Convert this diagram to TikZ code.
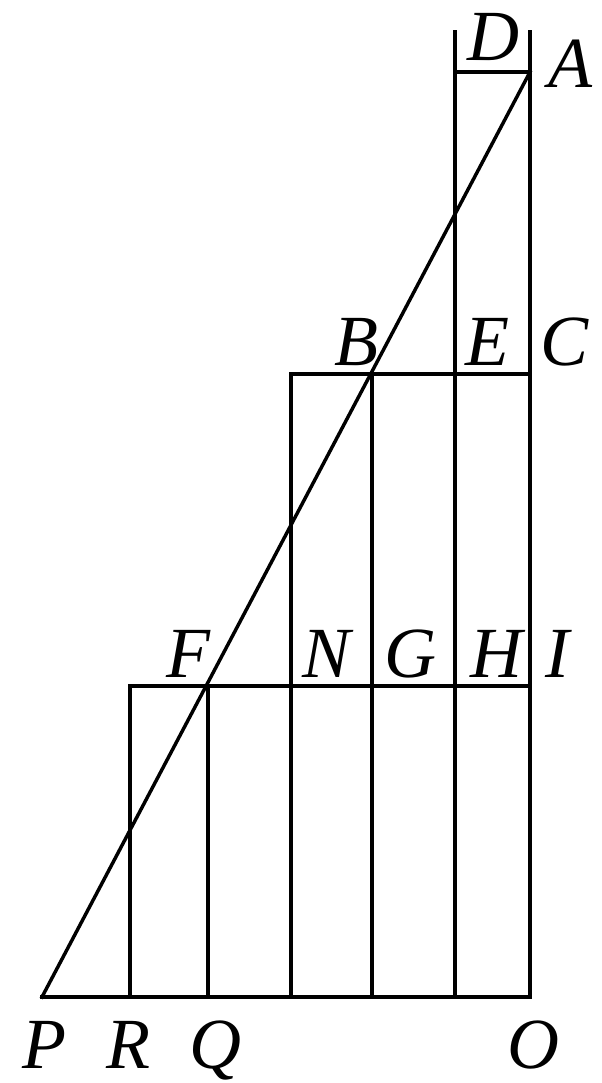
\documentclass[tikz,border=0pt]{standalone}
\usepackage{fontspec}
\setmainfont{Liberation Serif}
\begin{document}
\begin{tikzpicture}[x=0.75pt,y=-0.75pt,
  ln/.style={line width=2.6pt,line cap=rect,line join=miter},
  lab/.style={anchor=base,inner sep=0pt,font=\fontsize{54}{60}\selectfont\itshape}]
\useasboundingbox (0,0) rectangle (601,1083);
% points
\coordinate (P) at (42,997);
\coordinate (O) at (530,997);
\coordinate (A) at (530,72);
\coordinate (Dl) at (455,72);
\coordinate (Dt) at (455,32);
\coordinate (At) at (530,32);
\coordinate (C) at (530,374);
\coordinate (I) at (530,686);
\coordinate (Bl) at (291,374);
\coordinate (B) at (372,374);
\coordinate (E) at (455,374);
\coordinate (Fl) at (130,686);
\coordinate (F) at (208,686);
\coordinate (R) at (130,997);
\coordinate (Q) at (208,997);
\coordinate (X1) at (291,997);
\coordinate (X2) at (372,997);
\coordinate (X3) at (455,997);
% lines
\draw[ln] (P) -- (O);
\draw[ln] (P) -- (A);
\draw[ln] (At) -- (O);
\draw[ln] (Dt) -- (X3);
\draw[ln] (Dl) -- (A);
\draw[ln] (Bl) -- (C);
\draw[ln] (Fl) -- (I);
\draw[ln] (Bl) -- (X1);
\draw[ln] (B) -- (X2);
\draw[ln] (Fl) -- (R);
\draw[ln] (F) -- (Q);
% labels
\node[lab] (lD) at (493,60) {D};
\node[lab] (lA) at (570,87) {A};
\node[lab] (lB) at (356,365) {B};
\node[lab] (lE) at (487,365) {E};
\node[lab] (lC) at (565,365) {C};
\node[lab] (lF) at (188,677) {F};
\node[lab] (lN) at (327,677) {N};
\node[lab] (lG) at (410,677) {G};
\node[lab] (lH) at (496,677) {H};
\node[lab] (lI) at (557,677) {I};
\node[lab] (lP) at (44,1068) {P};
\node[lab] (lR) at (128,1068) {R};
\node[lab] (lQ) at (215,1068) {Q};
\node[lab] (lO) at (533,1068) {O};
\end{tikzpicture}
\end{document}
